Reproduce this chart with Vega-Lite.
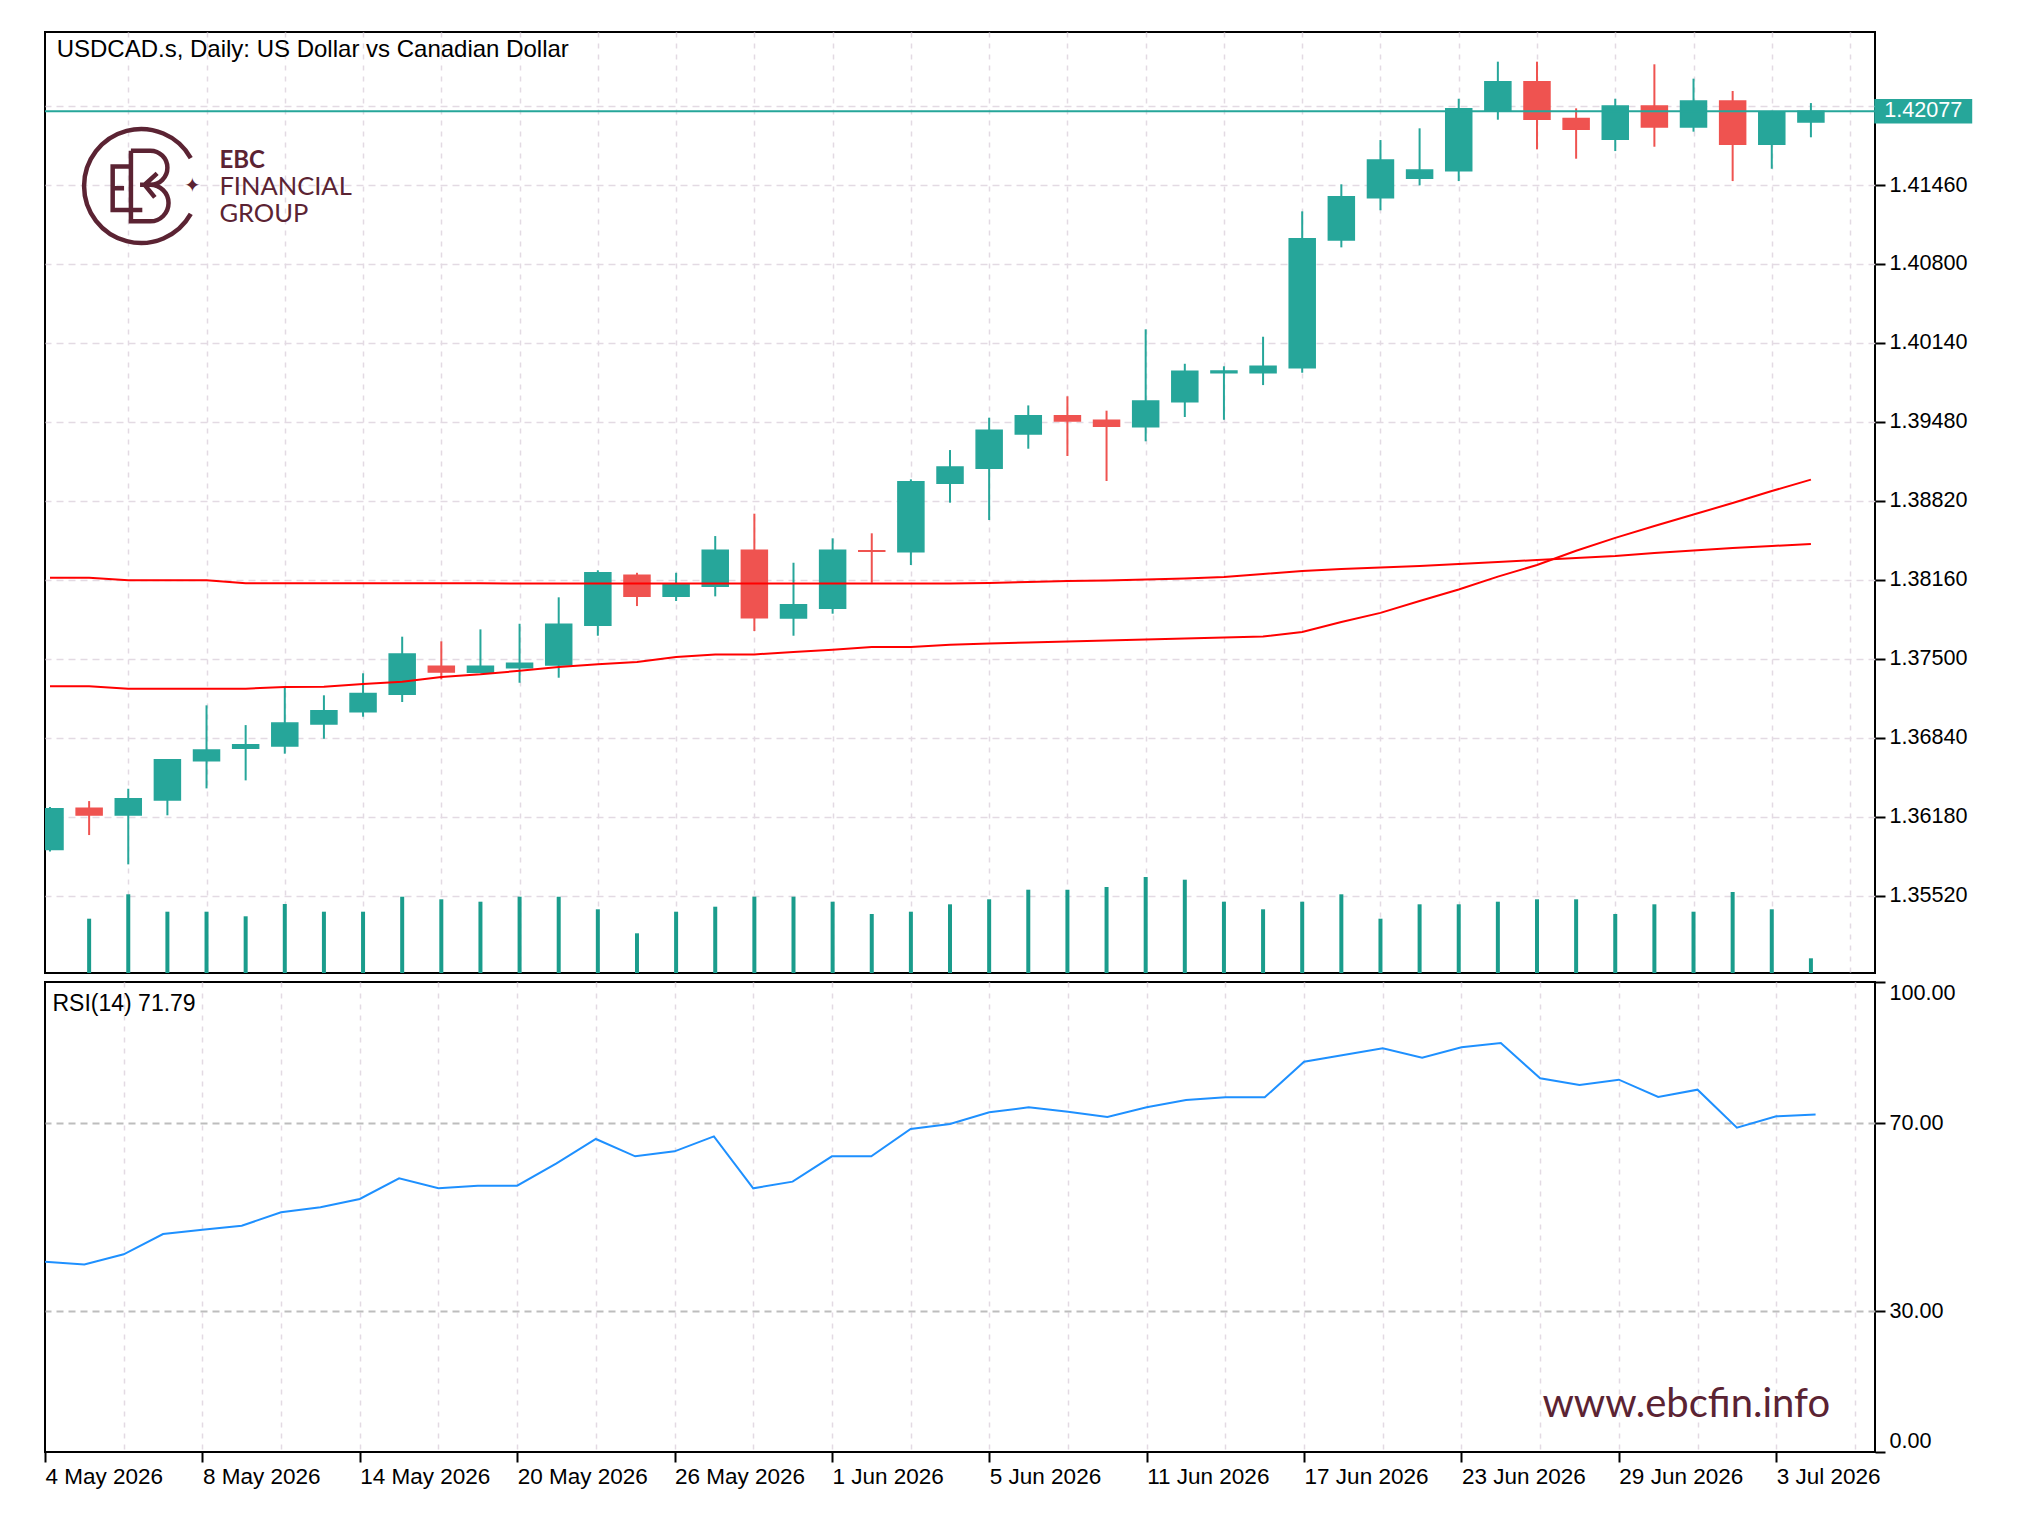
{
  "$schema": "https://vega.github.io/schema/vega-lite/v6.json",
  "background": "white",
  "padding": {"left": 43, "top": 31, "right": 0, "bottom": 0},
  "autosize": {"type": "pad"},
  "spacing": 6,
  "config": {
    "view": {"stroke": "black", "strokeWidth": 2},
    "font": "Liberation Sans",
    "text": {"font": "Liberation Sans"}
  },
  "datasets": {
    "ohlc": [
      {"i":0,"d":"2026-05-04","o":1.35907,"h":1.36262,"l":1.3589,"c":1.36247,"v":null,"maF":1.3727,"maS":1.38178,"rsi":40.5},
      {"i":1,"d":"2026-05-05","o":1.3625,"h":1.36311,"l":1.36027,"c":1.36194,"v":108600,"maF":1.3727,"maS":1.38178,"rsi":39.9},
      {"i":2,"d":"2026-05-06","o":1.36194,"h":1.36414,"l":1.35782,"c":1.3633,"v":157400,"maF":1.3725,"maS":1.38156,"rsi":42.06},
      {"i":3,"d":"2026-05-07","o":1.3632,"h":1.3666,"l":1.36192,"c":1.36656,"v":122600,"maF":1.3725,"maS":1.38156,"rsi":46.38},
      {"i":4,"d":"2026-05-08","o":1.36648,"h":1.37111,"l":1.36417,"c":1.36738,"v":122600,"maF":1.3725,"maS":1.38156,"rsi":47.3},
      {"i":5,"d":"2026-05-11","o":1.36752,"h":1.36946,"l":1.36484,"c":1.36782,"v":113400,"maF":1.3725,"maS":1.38131,"rsi":48.16},
      {"i":6,"d":"2026-05-12","o":1.36771,"h":1.37264,"l":1.36707,"c":1.36963,"v":138000,"maF":1.37264,"maS":1.38131,"rsi":50.99},
      {"i":7,"d":"2026-05-13","o":1.36955,"h":1.37195,"l":1.36832,"c":1.37066,"v":122600,"maF":1.37267,"maS":1.38131,"rsi":52.06},
      {"i":8,"d":"2026-05-14","o":1.37058,"h":1.37379,"l":1.37016,"c":1.37211,"v":122600,"maF":1.37289,"maS":1.38131,"rsi":53.83},
      {"i":9,"d":"2026-05-15","o":1.37203,"h":1.37685,"l":1.37139,"c":1.3754,"v":152600,"maF":1.37308,"maS":1.38131,"rsi":58.23},
      {"i":10,"d":"2026-05-18","o":1.37437,"h":1.37646,"l":1.37328,"c":1.37389,"v":147400,"maF":1.37348,"maS":1.38131,"rsi":56.1},
      {"i":11,"d":"2026-05-19","o":1.37388,"h":1.37746,"l":1.3738,"c":1.37437,"v":142600,"maF":1.3737,"maS":1.38131,"rsi":56.67},
      {"i":12,"d":"2026-05-20","o":1.37425,"h":1.37793,"l":1.373,"c":1.37462,"v":152600,"maF":1.374,"maS":1.38129,"rsi":56.67},
      {"i":13,"d":"2026-05-21","o":1.37448,"h":1.38014,"l":1.37342,"c":1.37788,"v":152600,"maF":1.37431,"maS":1.38129,"rsi":61.42},
      {"i":14,"d":"2026-05-22","o":1.3778,"h":1.3824,"l":1.37693,"c":1.38219,"v":127400,"maF":1.37454,"maS":1.38129,"rsi":66.6},
      {"i":15,"d":"2026-05-25","o":1.38198,"h":1.38219,"l":1.37941,"c":1.38022,"v":79400,"maF":1.37473,"maS":1.38129,"rsi":62.91},
      {"i":16,"d":"2026-05-26","o":1.38022,"h":1.38219,"l":1.37983,"c":1.38122,"v":122600,"maF":1.37515,"maS":1.38129,"rsi":63.97},
      {"i":17,"d":"2026-05-27","o":1.38106,"h":1.38526,"l":1.38022,"c":1.38407,"v":132600,"maF":1.37537,"maS":1.38129,"rsi":67.16},
      {"i":18,"d":"2026-05-28","o":1.38407,"h":1.38713,"l":1.37732,"c":1.37843,"v":152600,"maF":1.37537,"maS":1.38129,"rsi":56.1},
      {"i":19,"d":"2026-05-29","o":1.37841,"h":1.38303,"l":1.37693,"c":1.37952,"v":152600,"maF":1.37557,"maS":1.38129,"rsi":57.52},
      {"i":20,"d":"2026-06-01","o":1.37922,"h":1.38507,"l":1.37877,"c":1.38407,"v":142600,"maF":1.37576,"maS":1.38129,"rsi":62.91},
      {"i":21,"d":"2026-06-02","o":1.38403,"h":1.38549,"l":1.38136,"c":1.38399,"v":118000,"maF":1.37598,"maS":1.38129,"rsi":62.91},
      {"i":22,"d":"2026-06-03","o":1.38395,"h":1.39,"l":1.38284,"c":1.3898,"v":122600,"maF":1.37598,"maS":1.38129,"rsi":68.72},
      {"i":23,"d":"2026-06-04","o":1.38967,"h":1.39245,"l":1.38805,"c":1.39103,"v":137400,"maF":1.37618,"maS":1.38129,"rsi":69.79},
      {"i":24,"d":"2026-06-05","o":1.39092,"h":1.39515,"l":1.3866,"c":1.3941,"v":147400,"maF":1.37628,"maS":1.38133,"rsi":72.27},
      {"i":25,"d":"2026-06-08","o":1.39379,"h":1.39618,"l":1.39256,"c":1.39532,"v":166600,"maF":1.37636,"maS":1.38142,"rsi":73.33},
      {"i":26,"d":"2026-06-09","o":1.39532,"h":1.39694,"l":1.39195,"c":1.39487,"v":166600,"maF":1.37644,"maS":1.3815,"rsi":72.41},
      {"i":27,"d":"2026-06-10","o":1.39493,"h":1.39574,"l":1.38986,"c":1.39443,"v":172000,"maF":1.37653,"maS":1.38154,"rsi":71.28},
      {"i":28,"d":"2026-06-11","o":1.3944,"h":1.40254,"l":1.39318,"c":1.39655,"v":192000,"maF":1.37661,"maS":1.38163,"rsi":73.33},
      {"i":29,"d":"2026-06-12","o":1.39649,"h":1.39966,"l":1.39521,"c":1.39903,"v":186600,"maF":1.37669,"maS":1.38171,"rsi":74.89},
      {"i":30,"d":"2026-06-15","o":1.39891,"h":1.39945,"l":1.39498,"c":1.39905,"v":142600,"maF":1.37678,"maS":1.38183,"rsi":75.46},
      {"i":31,"d":"2026-06-16","o":1.39891,"h":1.40192,"l":1.39788,"c":1.39945,"v":127400,"maF":1.37686,"maS":1.38209,"rsi":75.46},
      {"i":32,"d":"2026-06-17","o":1.39933,"h":1.4124,"l":1.39891,"c":1.41011,"v":142600,"maF":1.37724,"maS":1.38234,"rsi":83.05},
      {"i":33,"d":"2026-06-18","o":1.41,"h":1.41466,"l":1.40939,"c":1.41362,"v":157400,"maF":1.37807,"maS":1.3825,"rsi":84.47},
      {"i":34,"d":"2026-06-19","o":1.41354,"h":1.41836,"l":1.41249,"c":1.41669,"v":108600,"maF":1.37884,"maS":1.38263,"rsi":85.89},
      {"i":35,"d":"2026-06-22","o":1.41516,"h":1.41934,"l":1.41457,"c":1.41585,"v":137400,"maF":1.37983,"maS":1.38275,"rsi":83.9},
      {"i":36,"d":"2026-06-23","o":1.4158,"h":1.42181,"l":1.41493,"c":1.42098,"v":137400,"maF":1.38079,"maS":1.38292,"rsi":86.1},
      {"i":37,"d":"2026-06-24","o":1.42079,"h":1.42491,"l":1.42006,"c":1.42323,"v":142600,"maF":1.38187,"maS":1.38309,"rsi":87.02},
      {"i":38,"d":"2026-06-25","o":1.42323,"h":1.42491,"l":1.41758,"c":1.42009,"v":147400,"maF":1.38284,"maS":1.38326,"rsi":79.5},
      {"i":39,"d":"2026-06-26","o":1.42017,"h":1.42101,"l":1.4168,"c":1.41926,"v":147400,"maF":1.38403,"maS":1.38342,"rsi":78.09},
      {"i":40,"d":"2026-06-29","o":1.41842,"h":1.42181,"l":1.41744,"c":1.4212,"v":118000,"maF":1.38511,"maS":1.38359,"rsi":79.22},
      {"i":41,"d":"2026-06-30","o":1.4212,"h":1.42469,"l":1.4178,"c":1.41945,"v":137400,"maF":1.3861,"maS":1.38384,"rsi":75.53},
      {"i":42,"d":"2026-07-01","o":1.41945,"h":1.42349,"l":1.41906,"c":1.42162,"v":122600,"maF":1.38706,"maS":1.38405,"rsi":77.09},
      {"i":43,"d":"2026-07-02","o":1.42162,"h":1.42246,"l":1.41493,"c":1.418,"v":162000,"maF":1.38802,"maS":1.38426,"rsi":69.01},
      {"i":44,"d":"2026-07-03","o":1.418,"h":1.4208,"l":1.41596,"c":1.42073,"v":127400,"maF":1.38902,"maS":1.38443,"rsi":71.42},
      {"i":45,"d":"2026-07-06","o":1.41987,"h":1.42145,"l":1.41859,"c":1.42077,"v":29400,"maF":1.38998,"maS":1.38459,"rsi":71.79}
    ]
  },
  "data": {"name": "ohlc"},
  "vconcat": [
    {
      "width": 1830,
      "height": 941,
      "resolve": {"scale": {"y": "independent"}, "axis": {"x": "independent", "y": "independent"}},
      "layer": [
        {
          "mark": {"type": "bar", "size": 4, "color": "#1A9C8C", "clip": true},
          "encoding": {
            "x": {"field": "i", "type": "quantitative", "scale": {"domain": [0, 46.51], "nice": false, "zero": false},
              "axis": {"values": [0,2,4,6,8,10,12,14,16,18,20,22,24,26,28,30,32,34,36,38,40,42,44,46], "grid": true,
                "gridColor": {"condition": {"test": "datum.value == 0", "value": "transparent"}, "value": "#E3DAE3"},
                "gridDash": [5, 6], "gridWidth": 1.5, "labels": false, "ticks": false, "domain": false, "title": null}},
            "y": {"field": "v", "type": "quantitative", "scale": {"domain": [0, 1882000], "nice": false, "zero": true}, "axis": null}
          }
        },
        {
          "mark": {"type": "rule", "strokeWidth": 2, "clip": true},
          "encoding": {
            "x": {"field": "i", "type": "quantitative", "scale": {"domain": [0, 46.51], "nice": false, "zero": false}, "axis": null},
            "y": {"field": "l", "type": "quantitative", "scale": {"domain": [1.34874, 1.42739], "nice": false, "zero": false},
              "axis": {"orient": "right", "values": [1.3552,1.3618,1.3684,1.375,1.3816,1.3882,1.3948,1.4014,1.408,1.4146,1.4212], "format": ".5f", "labelExpr": "datum.value > 1.42 ? '' : datum.label", "grid": true, "gridColor": "#E3DAE3", "gridDash": [7, 5], "gridWidth": 1.5, "domain": false, "tickColor": "black", "tickSize": 10, "tickWidth": 2, "labelPadding": 4, "labelFont": "Liberation Sans", "labelFontSize": 21.6, "labelColor": "black", "title": null}},
            "y2": {"field": "h"},
            "color": {"condition": {"test": "datum.c >= datum.o", "value": "#26A69A"}, "value": "#EF5350"}
          }
        },
        {
          "mark": {"type": "bar", "size": 26, "strokeWidth": 1.5, "clip": true},
          "encoding": {
            "x": {"field": "i", "type": "quantitative", "scale": {"domain": [0, 46.51], "nice": false, "zero": false}, "axis": null},
            "y": {"field": "o", "type": "quantitative", "scale": {"domain": [1.34874, 1.42739], "nice": false, "zero": false}, "axis": null},
            "y2": {"field": "c"},
            "fill": {"condition": {"test": "datum.c >= datum.o", "value": "#26A69A"}, "value": "#EF5350"},
            "stroke": {"condition": {"test": "datum.c >= datum.o", "value": "#26A69A"}, "value": "#EF5350"}
          }
        },
        {
          "mark": {"type": "line", "color": "#FF0000", "strokeWidth": 2, "clip": true},
          "encoding": {
            "x": {"field": "i", "type": "quantitative", "scale": {"domain": [0, 46.51], "nice": false, "zero": false}, "axis": null},
            "y": {"field": "maS", "type": "quantitative", "scale": {"domain": [1.34874, 1.42739], "nice": false, "zero": false}, "axis": null}
          }
        },
        {
          "mark": {"type": "line", "color": "#FF0000", "strokeWidth": 2, "clip": true},
          "encoding": {
            "x": {"field": "i", "type": "quantitative", "scale": {"domain": [0, 46.51], "nice": false, "zero": false}, "axis": null},
            "y": {"field": "maF", "type": "quantitative", "scale": {"domain": [1.34874, 1.42739], "nice": false, "zero": false}, "axis": null}
          }
        },
        {
          "transform": [{"filter": "datum.i == 45"}],
          "mark": {"type": "rule", "color": "#26A69A", "strokeWidth": 2},
          "encoding": {
            "y": {"field": "c", "type": "quantitative", "scale": {"domain": [1.34874, 1.42739], "nice": false, "zero": false}, "axis": null}
          }
        },
        {
          "transform": [{"filter": "datum.i == 45"}],
          "mark": {"type": "point", "shape": "M-1,-0.25H1V0.25H-1Z", "filled": true, "color": "#26A69A", "opacity": 1, "size": 9604, "clip": false},
          "encoding": {
            "x": {"datum": 47.87, "type": "quantitative", "scale": {"domain": [0, 46.51], "nice": false, "zero": false}, "axis": null},
            "y": {"field": "c", "type": "quantitative", "scale": {"domain": [1.34874, 1.42739], "nice": false, "zero": false}, "axis": null}
          }
        },
        {
          "transform": [{"filter": "datum.i == 45"}],
          "mark": {"type": "text", "color": "white", "font": "Liberation Sans", "fontSize": 21.6, "align": "center", "baseline": "middle", "clip": false},
          "encoding": {
            "x": {"datum": 47.87, "type": "quantitative", "scale": {"domain": [0, 46.51], "nice": false, "zero": false}, "axis": null},
            "y": {"field": "c", "type": "quantitative", "scale": {"domain": [1.34874, 1.42739], "nice": false, "zero": false}, "axis": null},
            "text": {"field": "c", "type": "quantitative", "format": ".5f"}
          }
        },
        {
          "data": {"values": [{"t": "USDCAD.s, Daily:  US Dollar vs Canadian Dollar"}]},
          "mark": {"type": "text", "color": "black", "font": "Liberation Sans", "fontSize": 24, "align": "left", "baseline": "middle"},
          "encoding": {
            "x": {"datum": 0.17, "type": "quantitative", "scale": {"domain": [0, 46.51], "nice": false, "zero": false}, "axis": null},
            "y": {"datum": 1.42588, "type": "quantitative", "scale": {"domain": [1.34874, 1.42739], "nice": false, "zero": false}, "axis": null},
            "text": {"field": "t"}
          }
        },
        {
          "data": {"values": [{"brand": "EBC"}]},
          "mark": {"type": "point", "shape": "M0.87,-0.49A1,1 0 1 0 0.87,0.49M-0.18,-0.62H0.16A0.3,0.3 0 0 1 0.16,-0.02H-0.02M0.16,-0.02A0.32,0.32 0 0 1 0.16,0.62H-0.18V-0.62M-0.18,-0.34H-0.5V0.42H0.02M-0.5,0.04H-0.3M0.28,-0.22L0.06,-0.02L0.24,0.2", "filled": false, "color": "#5B2333", "opacity": 1, "strokeWidth": 4.5, "size": 12996},
          "encoding": {
            "x": {"datum": 2.33, "type": "quantitative", "scale": {"domain": [0, 46.51], "nice": false, "zero": false}, "axis": null},
            "y": {"datum": 1.41452, "type": "quantitative", "scale": {"domain": [1.34874, 1.42739], "nice": false, "zero": false}, "axis": null}
          }
        },
        {
          "data": {"values": [{"t": "✦"}]},
          "mark": {"type": "text", "color": "#5B2333", "font": "DejaVu Sans", "fontSize": 20, "align": "center", "baseline": "middle"},
          "encoding": {
            "x": {"datum": 3.64, "type": "quantitative", "scale": {"domain": [0, 46.51], "nice": false, "zero": false}, "axis": null},
            "y": {"datum": 1.41452, "type": "quantitative", "scale": {"domain": [1.34874, 1.42739], "nice": false, "zero": false}, "axis": null},
            "text": {"field": "t"}
          }
        },
        {
          "data": {"values": [{"t": "EBC"}]},
          "mark": {"type": "text", "color": "#5B2333", "font": "Lato", "fontSize": 24, "fontWeight": "bold", "align": "left", "baseline": "middle"},
          "encoding": {
            "x": {"datum": 4.33, "type": "quantitative", "scale": {"domain": [0, 46.51], "nice": false, "zero": false}, "axis": null},
            "y": {"datum": 1.41663, "type": "quantitative", "scale": {"domain": [1.34874, 1.42739], "nice": false, "zero": false}, "axis": null},
            "text": {"field": "t"}
          }
        },
        {
          "data": {"values": [{"t1": "FINANCIAL", "t2": "GROUP"}]},
          "mark": {"type": "text", "color": "#5B2333", "font": "Lato", "fontSize": 25.5, "lineHeight": 27.2, "align": "left", "baseline": "middle"},
          "encoding": {
            "x": {"datum": 4.33, "type": "quantitative", "scale": {"domain": [0, 46.51], "nice": false, "zero": false}, "axis": null},
            "y": {"datum": 1.41442, "type": "quantitative", "scale": {"domain": [1.34874, 1.42739], "nice": false, "zero": false}, "axis": null},
            "text": {"value": ["FINANCIAL", "GROUP"]}
          }
        }
      ]
    },
    {
      "width": 1830,
      "height": 470,
      "resolve": {"axis": {"x": "independent", "y": "independent"}},
      "layer": [
        {
          "mark": {"type": "line", "color": "#1E90FF", "strokeWidth": 2, "clip": true},
          "encoding": {
            "x": {"field": "i", "type": "quantitative", "scale": {"domain": [0, 46.51], "nice": false, "zero": false},
              "axis": {"values": [0,2,4,6,8,10,12,14,16,18,20,22,24,26,28,30,32,34,36,38,40,42,44,46], "grid": true,
                "gridColor": {"condition": {"test": "datum.value == 0", "value": "transparent"}, "value": "#E3DAE3"},
                "gridDash": [5, 6], "gridWidth": 1.5, "domain": false,
                "tickColor": {"condition": {"test": "datum.value % 4 == 0 && datum.value <= 44", "value": "black"}, "value": "transparent"},
                "tickSize": 10, "tickWidth": 2,
                "labelExpr": "datum.value % 4 == 0 && datum.value <= 44 ? ['4 May 2026','8 May 2026','14 May 2026','20 May 2026','26 May 2026','1 Jun 2026','5 Jun 2026','11 Jun 2026','17 Jun 2026','23 Jun 2026','29 Jun 2026','3 Jul 2026'][datum.value / 4] : ''",
                "labelAlign": "left", "labelFlush": false, "labelOverlap": false, "labelBound": false, "labelPadding": 3,
                "labelFont": "Liberation Sans", "labelFontSize": 22.5, "labelColor": "black", "title": null}},
            "y": {"field": "rsi", "type": "quantitative", "scale": {"domain": [0, 100], "nice": false, "zero": false},
              "axis": {"orient": "right", "values": [0, 30, 70, 100], "format": ".2f", "grid": true,
                "gridColor": {"condition": {"test": "datum.value == 30 || datum.value == 70", "value": "#BDBDBD"}, "value": "transparent"},
                "gridDash": [7, 5], "gridWidth": 2, "domain": false, "tickColor": "black", "tickSize": 10, "tickWidth": 2,
                "labelPadding": 4, "labelFlush": true, "labelFlushOffset": 0, "labelFont": "Liberation Sans", "labelFontSize": 21.6, "labelColor": "black", "title": null}}
          }
        },
        {
          "data": {"values": [{"t": "RSI(14) 71.79"}]},
          "mark": {"type": "text", "color": "black", "font": "Liberation Sans", "fontSize": 23, "align": "left", "baseline": "middle"},
          "encoding": {
            "x": {"datum": 0.19, "type": "quantitative", "axis": null},
            "y": {"datum": 95.4, "type": "quantitative", "axis": null},
            "text": {"field": "t"}
          }
        },
        {
          "data": {"values": [{"t": "www.ebcfin.info"}]},
          "mark": {"type": "text", "color": "#5B2333", "font": "Lato", "fontSize": 40, "align": "right", "baseline": "middle"},
          "encoding": {
            "x": {"datum": 45.37, "type": "quantitative", "axis": null},
            "y": {"datum": 10.06, "type": "quantitative", "axis": null},
            "text": {"field": "t"}
          }
        }
      ]
    }
  ]
}
